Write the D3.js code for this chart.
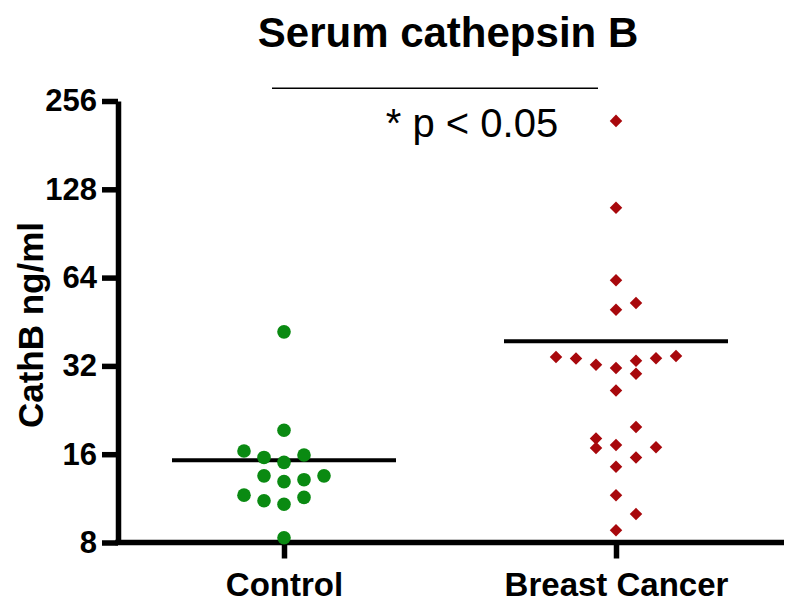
<!DOCTYPE html>
<html>
<head>
<meta charset="utf-8">
<script src="https://cdn.jsdelivr.net/npm/d3@7/dist/d3.min.js"></script>
<style>
  html, body { margin: 0; padding: 0; background: #fff; }
  svg { display: block; }
  text { font-family: "Liberation Sans", Arial, sans-serif; }
</style>
</head>
<body>
<svg id="chart" width="800" height="602"></svg>
<script>
// ---- data ----
const categories = ["Control", "Breast Cancer"];
const yTicks = [8, 16, 32, 64, 128, 256];
const controlValues = [41.8, 19.3, 16.4, 15.6, 15.9, 15.0, 13.5, 13.5, 12.9, 13.1, 11.6, 11.1, 10.8, 11.4, 8.3];
const controlSlots  = [0, 0, -2, -1, 1, 0, -1, 2, 0, 1, -2, -1, 0, 1, 0];
const cancerValues = [219, 110.7, 62.7, 52.4, 49.7, 34.3, 33.9, 32.3, 31.5, 33.3, 34.0, 34.6, 30.1, 26.4,
                      19.8, 18.1, 16.8, 17.2, 16.9, 15.6, 14.5, 11.6, 10.0, 8.8];
const cancerSlots  = [0, 0, 0, 1, 0, -3, -2, -1, 0, 1, 2, 3, 1, 0, 1, -1, -1, 0, 2, 1, 0, 0, 1, 0];
const groupMeans = [15.25, 38.8];
const title = "Serum cathepsin B";
const yLabel = "CathB ng/ml";
const sigText = "* p < 0.05";

// ---- layout ----
const svg = d3.select("#chart");
const x = d3.scalePoint().domain(categories).range([118, 782]).padding(0.5);
const y = d3.scaleLog().base(2).domain([8, 256]).range([542.5, 101]);
const slotW = 20;
const axisW = 5.5;

// title
svg.append("text").attr("x", 448).attr("y", 47).attr("text-anchor", "middle")
  .attr("font-size", 42).attr("font-weight", "bold").attr("fill", "#000").text(title);

// significance bar
svg.append("line").attr("x1", 272).attr("x2", 598).attr("y1", 88.3).attr("y2", 88.3)
  .attr("stroke", "#000").attr("stroke-width", 1.6);
svg.append("text").attr("x", 472).attr("y", 137).attr("text-anchor", "middle")
  .attr("font-size", 40).attr("fill", "#000").text(sigText);

// y axis
const yAxis = svg.append("g").attr("transform", "translate(118,0)")
  .call(d3.axisLeft(y).tickValues(yTicks).tickFormat(d3.format("d")).tickSize(16).tickSizeOuter(0).tickPadding(5));
yAxis.select(".domain").attr("stroke-width", axisW).attr("stroke", "#000");
yAxis.selectAll(".tick line").attr("stroke-width", axisW).attr("stroke", "#000");
yAxis.selectAll(".tick text").attr("font-size", 31).attr("font-weight", "bold").attr("fill", "#000")
  .attr("font-family", "'Liberation Sans', Arial, sans-serif");

// x axis
const xAxis = svg.append("g").attr("transform", "translate(0,542.5)")
  .call(d3.axisBottom(x).tickSize(16).tickSizeOuter(0).tickPadding(14));
xAxis.select(".domain").attr("stroke-width", axisW).attr("stroke", "#000")
  .attr("d", `M${118 - axisW / 2},0H784`);
xAxis.selectAll(".tick line").attr("stroke-width", axisW).attr("stroke", "#000");
xAxis.selectAll(".tick text").attr("font-size", 33).attr("font-weight", "bold").attr("fill", "#000")
  .attr("font-family", "'Liberation Sans', Arial, sans-serif").attr("dy", "0.71em");

// y label
svg.append("text").attr("transform", "translate(43,325) rotate(-90)").attr("text-anchor", "middle")
  .attr("font-size", 35).attr("font-weight", "bold").attr("fill", "#000").text(yLabel);

// mean lines
svg.selectAll(".mean").data(groupMeans).join("line").attr("class", "mean")
  .attr("x1", (d, i) => x(categories[i]) - 112).attr("x2", (d, i) => x(categories[i]) + 112)
  .attr("y1", d => y(d)).attr("y2", d => y(d))
  .attr("stroke", "#000").attr("stroke-width", 4);

// control points
svg.selectAll(".ctrl").data(controlValues).join("circle").attr("class", "ctrl")
  .attr("cx", (d, i) => x(categories[0]) + controlSlots[i] * slotW)
  .attr("cy", d => y(d)).attr("r", 6.8).attr("fill", "#0a8a12");

// cancer points
const diamond = d3.symbol().type(d3.symbolDiamond2).size(100);
svg.selectAll(".bc").data(cancerValues).join("path").attr("class", "bc")
  .attr("transform", (d, i) => `translate(${x(categories[1]) + cancerSlots[i] * slotW},${y(d)})`)
  .attr("d", diamond).attr("fill", "#a8080c");
</script>
</body>
</html>
